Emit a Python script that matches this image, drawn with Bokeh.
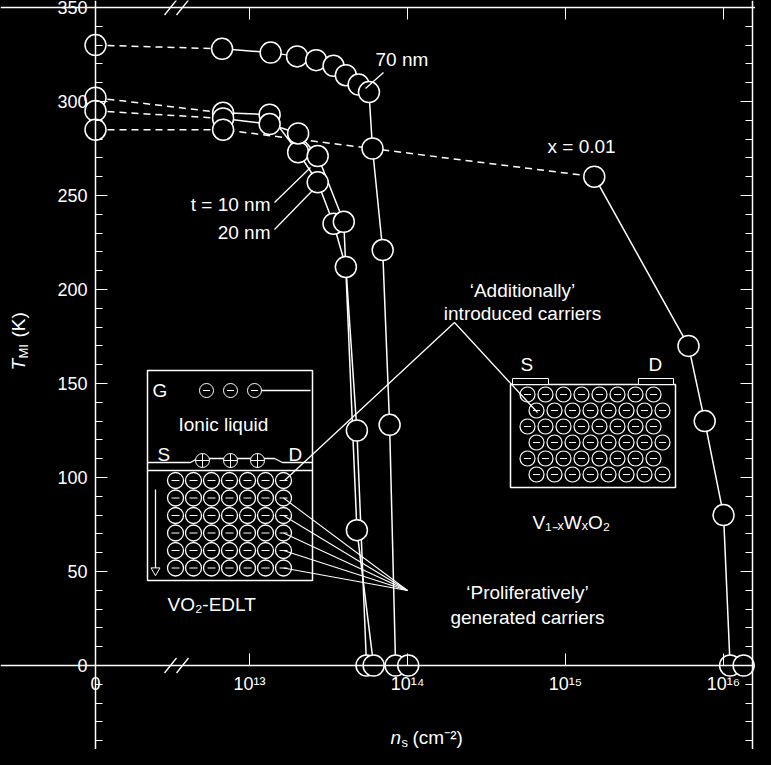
import math
from bokeh.plotting import figure
from bokeh.models import Range1d, FixedTicker, SingleIntervalTicker, LinearAxis, Label
from bokeh.core.properties import value
from bokeh.embed import file_html
from bokeh.resources import INLINE

FONT = "Liberation Sans"
ZERO_POS = -0.975  # where n_s = 0 sits on the broken axis (decades above 1e13)

# --- data (n_s in cm^-2, T_MI in K) ---
ns_70 = [0, 6.7e12, 1.36e13, 2.0e13, 2.64e13, 3.4e13, 4.07e13, 4.9e13, 5.7e13, 6.0e13, 6.96e13, 7.7e13, 8.4e13, 1.01e14]
t_70 = [330, 328, 326, 324, 322, 319, 314, 309, 305, 275, 221, 128, 0, 0]
ns_10 = [0, 6.8e12, 1.34e13, 2.03e13, 2.7e13, 3.4e13, 4.07e13, 4.78e13, 5.5e13]
t_10 = [302, 294, 293, 273, 257, 235, 212, 125, 0]
ns_20 = [0, 6.8e12, 1.34e13, 2.03e13, 2.7e13, 3.95e13, 4.78e13, 6.1e13]
t_20 = [295, 291, 288, 283, 271, 236, 72, 0]
ns_w = [0, 6.8e12, 1.52e15, 6.0e15, 7.6e15, 1.0e16, 1.1e16, 1.34e16]
t_w = [285, 285, 260, 170, 130, 80, 0, 0]
series = [(ns_70, t_70, 1), (ns_10, t_10, 1), (ns_20, t_20, 1), (ns_w, t_w, 2)]

x_ticks = [ZERO_POS, 0, 1, 2, 3]
x_tick_labels = {ZERO_POS: "0", 0: "10¹³", 1: "10¹⁴", 2: "10¹⁵", 3: "10¹⁶"}
X_RIGHT = 3.182


def pos(n):
    return math.log10(n) - 13 if n > 0 else ZERO_POS


# page-pixel helpers for the drawn annotations
def ux(px):
    return ZERO_POS + (px - 103) / 158.0


def ty(py):
    return (673 - py) / 1.88


p = figure(frame_width=755, frame_height=749, min_border=0,
           x_range=Range1d(ux(8), ux(763)), y_range=Range1d(ty(757), ty(8)),
           output_backend="svg", toolbar_location=None, background_fill_color="black",
           border_fill_color="black", outline_line_color=None)
p.grid.visible = False
p.xaxis.visible = False
p.yaxis.visible = False


def style(ax, labels=True):
    ax.axis_line_color = "white"
    ax.axis_line_width = 1.5
    ax.major_tick_line_color = "white"
    ax.minor_tick_line_color = "white"
    ax.major_tick_in = 12
    ax.major_tick_out = 0
    ax.minor_tick_in = 7
    ax.minor_tick_out = 0
    ax.major_label_text_color = "white" if labels else None
    ax.major_label_text_font = FONT
    ax.major_label_text_font_size = "18px"
    ax.major_label_standoff = 8


for side, loc in (("below", 0), ("above", 350)):
    ax = LinearAxis(ticker=FixedTicker(ticks=x_ticks, minor_ticks=[]),
                    major_label_overrides=x_tick_labels)
    style(ax, side == "below")
    ax.fixed_location = loc
    p.add_layout(ax, side)
for side, loc in (("left", ZERO_POS), ("right", X_RIGHT)):
    ax = LinearAxis(ticker=SingleIntervalTicker(interval=50, num_minor_ticks=5))
    style(ax, side == "left")
    ax.fixed_location = loc
    p.add_layout(ax, side)

# axis breaks
for yy in (0, 350):
    p.quad(left=ux(178), right=ux(194), bottom=yy - 2, top=yy + 2, fill_color="black", line_color=None)
    for bx in (178, 190):
        p.line([ux(bx - 6), ux(bx + 6)], [yy - 4, yy + 4], line_color="white", line_width=1.3)

# data series
for ns, ts, dash_end in series:
    xs = [pos(n) for n in ns]
    p.line(xs[:dash_end + 1], ts[:dash_end + 1], line_color="white", line_width=1.5, line_dash="7 5")
    p.line(xs[dash_end:], ts[dash_end:], line_color="white", line_width=1.5)
for ns, ts, dash_end in series:
    p.scatter([pos(n) for n in ns], ts, size=21, fill_color="black", line_color="white", line_width=1.5)

txt = dict(text_color="white", text_font=value(FONT), text_font_size="19px")
p.text([ux(383)], [ty(67)], text=["70 nm"], text_baseline="middle", **txt)
p.line([ux(391), ux(373)], [ty(80), ty(96)], line_color="white", line_width=1.3)
p.text([ux(555)], [ty(154)], text=["x = 0.01"], text_baseline="middle", **txt)
p.text([ux(278)], [ty(212)], text=["t = 10 nm"], text_align="right", text_baseline="middle", **txt)
p.text([ux(278)], [ty(240)], text=["20 nm"], text_align="right", text_baseline="middle", **txt)
p.line([ux(282), ux(318)], [ty(210), ty(175)], line_color="white", line_width=1.3)
p.line([ux(282), ux(320)], [ty(237), ty(198)], line_color="white", line_width=1.3)

# inset 1: VO2-EDLT
p.quad(left=ux(155), right=ux(320), top=ty(378), bottom=ty(588), fill_color="black", line_color="white", line_width=1.5)
p.line([ux(155), ux(320)], [ty(478), ty(478)], line_color="white", line_width=1.5)
p.line([ux(155), ux(198), ux(205), ux(282), ux(290), ux(320)],
       [ty(470), ty(470), ty(466), ty(466), ty(470), ty(470)], line_color="white", line_width=1.3)
p.line([ux(268), ux(318)], [ty(398), ty(398)], line_color="white", line_width=1.3)
p.text([ux(160)], [ty(398)], text=["G"], text_baseline="middle", **txt)
p.text([ux(165)], [ty(462)], text=["S"], text_baseline="middle", **txt)
p.text([ux(296)], [ty(462)], text=["D"], text_baseline="middle", **txt)
p.text([ux(186)], [ty(432)], text=["Ionic liquid"], text_baseline="middle", **txt)
p.scatter([ux(214), ux(238), ux(262)], [ty(398)] * 3, size=14, marker="circle", fill_color="black", line_color="white")
p.scatter([ux(214), ux(238), ux(262)], [ty(398)] * 3, size=7, marker="dash", line_color="white")
p.scatter([ux(210), ux(238), ux(265)], [ty(468)] * 3, size=14, marker="circle_cross", fill_color="black", line_color="white")
gx = [ux(183 + 18 * i) for i in range(7)]
gy = [ty(488 + 17.5 * j) for j in range(6)]
cx = [x for y in gy for x in gx]
cy = [y for y in gy for x in gx]
p.scatter(cx, cy, size=16, fill_color="black", line_color="white", line_width=1.3)
p.scatter(cx, cy, size=8, marker="dash", line_color="white")
p.line([ux(163), ux(163)], [ty(497), ty(578)], line_color="white", line_width=1.3)
p.scatter([ux(163)], [ty(578)], marker="inverted_triangle", size=9, fill_color="black", line_color="white")
p.text([ux(175)], [ty(612)], text=["VO₂-EDLT"], text_baseline="middle", **txt)

# inset 2: V1-xWxO2
p.quad(left=ux(518), right=ux(683), top=ty(392), bottom=ty(495), fill_color="black", line_color="white", line_width=1.5)
p.quad(left=ux(520), right=ux(556), top=ty(386), bottom=ty(392), fill_color="black", line_color="white")
p.quad(left=ux(646), right=ux(681), top=ty(386), bottom=ty(392), fill_color="black", line_color="white")
p.text([ux(528)], [ty(372)], text=["S"], text_baseline="middle", **txt)
p.text([ux(656)], [ty(372)], text=["D"], text_baseline="middle", **txt)
wx, wy = [], []
for j in range(6):
    for i in range(8):
        wx.append(ux(535 + 18 * i + (9 if j % 2 else 0)))
        wy.append(ty(402 + 16 * j))
p.scatter(wx, wy, size=15, fill_color="black", line_color="white", line_width=1.2)
p.scatter(wx, wy, size=7, marker="dash", line_color="white")
p.text([ux(540)], [ty(530)], text=["V₁₋ₓWₓO₂"], text_baseline="middle", **txt)

# carrier annotations
p.text([ux(530)], [ty(298)], text=["‘Additionally’"], text_align="center", text_baseline="middle", **txt)
p.text([ux(530)], [ty(310)], text=["introduced carriers"], text_align="center", text_baseline="top", **txt)
p.line([ux(292), ux(462), ux(545)], [ty(488), ty(330), ty(420)], line_color="white", line_width=1.3)
p.text([ux(535)], [ty(600)], text=["‘Proliferatively’"], text_align="center", text_baseline="middle", **txt)
p.text([ux(535)], [ty(614)], text=["generated carriers"], text_align="center", text_baseline="top", **txt)
for j in range(1, 6):
    p.line([gx[-1], ux(415)], [gy[j], ty(598)], line_color="white", line_width=1.1)

# axis titles
lab = dict(text_color="white", text_font=FONT)
p.add_layout(Label(x=ux(398), y=ty(745), text="n", text_font_style="italic", text_font_size="19px",
                   text_baseline="middle", **lab))
p.add_layout(Label(x=ux(409), y=ty(750), text="s", text_font_size="13px", text_baseline="middle", **lab))
p.add_layout(Label(x=ux(420), y=ty(745), text="(cm⁻²)", text_font_size="19px", text_baseline="middle", **lab))
p.add_layout(Label(x=ux(26), y=ty(378), text="T", text_font_style="italic", text_font_size="19px",
                   angle=math.pi / 2, text_baseline="middle", **lab))
p.add_layout(Label(x=ux(31), y=ty(366), text="MI", text_font_size="13px",
                   angle=math.pi / 2, text_baseline="middle", **lab))
p.add_layout(Label(x=ux(26), y=ty(345), text="(K)", text_font_size="19px",
                   angle=math.pi / 2, text_baseline="middle", **lab))

html = file_html(p, INLINE).replace("<body>", '<body style="background:black">')
open("out.html", "w").write(html)
